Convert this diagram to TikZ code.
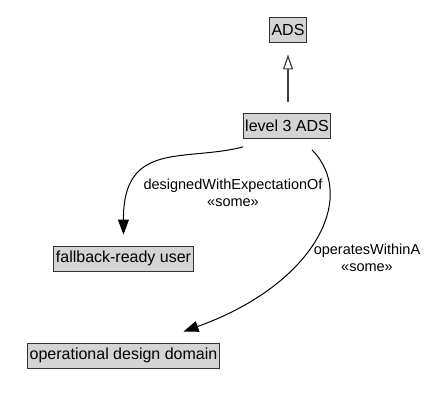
\documentclass[tikz,border=0pt]{standalone}
\usepackage{fontspec}
\setmainfont{Liberation Sans}
\usetikzlibrary{arrows.meta,calc}
\begin{document}
\begin{tikzpicture}[x=1pt,y=-1pt,
  cls/.style={draw=black!80,fill=black!17,line width=0.9pt,inner xsep=2pt,inner ysep=0pt,
    minimum height=25pt,font=\fontsize{16}{19}\selectfont},
  lbl/.style={align=center,font=\fontsize{14.5}{16.5}\selectfont,inner sep=0pt},
  rel/.style={line width=1pt,-{Triangle[length=15pt,width=11pt]}},
  isa/.style={line width=1.2pt,draw=black!75,-{Triangle[open,length=15pt,width=10pt,fill=white]}}]
\useasboundingbox (0,0) rectangle (429,407);
\node[cls] (ads) at (288,29.5) {ADS};
\node[cls] (l3) at (287,126) {level 3 ADS};
\node[cls] (fb) at (123.5,258.5) {fallback-ready user};
\node[cls] (odd) at (123.5,355.5) {operational design domain};
\draw[isa] ($(l3.north)+(1,-11)$) -- ($(ads.south)+(0,12)$);
\draw[rel] ($(l3.south)+(-44,8)$) .. controls (185,162) and (123,140) .. ($(fb.north)+(0,-11)$);
\draw[rel] ($(l3.south)+(25,11)$) .. controls (358,196) and (316,284) .. ($(odd.north)+(60,-11)$);
\node[lbl] (l1) at (233,193) {designedWithExpectationOf\\«some»};
\node[lbl] (l2) at (367,258) {operatesWithinA\\«some»};
\end{tikzpicture}
\end{document}
